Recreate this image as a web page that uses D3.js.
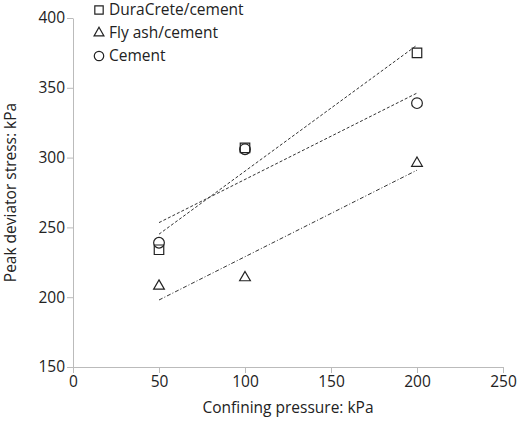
<!DOCTYPE html>
<html><head><meta charset="utf-8">
<script src="https://cdn.jsdelivr.net/npm/d3@7"></script>
<style>body{margin:0;background:#fff}text{font-family:"Open Sans",sans-serif;fill:#222}</style>
</head><body><div id="chart"></div>
<script>
const pressures = [50, 100, 200];
const duraCrete = [234, 307, 375];
const flyAsh = [208, 214, 296];
const cement = [239, 306, 339];
const xTicks = [0, 50, 100, 150, 200, 250];
const yTicks = [150, 200, 250, 300, 350, 400];

const w = 520, h = 422;
const svg = d3.select("#chart").append("svg").attr("width", w).attr("height", h);
const x = d3.scaleLinear().domain([0, 250]).range([73, 503]);
const y = d3.scaleLinear().domain([150, 400]).range([367, 18]);

// axes
const xa = svg.append("g").attr("transform", `translate(0,${y(150)})`)
  .call(d3.axisBottom(x).tickValues(xTicks).tickSize(6).tickSizeOuter(0));
const ya = svg.append("g").attr("transform", `translate(${x(0)},0)`)
  .call(d3.axisLeft(y).tickValues(yTicks).tickSize(6).tickSizeOuter(0));
[xa, ya].forEach(a => {
  a.selectAll("path,line").attr("stroke", "#bbb");
  a.selectAll("text").attr("font-size", 15.5).attr("fill", "#222");
});
ya.selectAll("text").attr("x", -8);

svg.append("text").attr("x", x(125)).attr("y", 413).attr("text-anchor", "middle")
  .attr("font-size", 15.5).text("Confining pressure: kPa");
svg.append("text").attr("transform", `translate(16,${y(275)}) rotate(-90)`)
  .attr("text-anchor", "middle").attr("font-size", 15.5).text("Peak deviator stress: kPa");

// least-squares trend lines
function fit(ys) {
  const mx = d3.mean(pressures), my = d3.mean(ys);
  const b = d3.sum(pressures, (p, i) => (p - mx) * (ys[i] - my)) / d3.sum(pressures, p => (p - mx) ** 2);
  return p => my + b * (p - mx);
}
const series = [
  {name: "DuraCrete/cement", vals: duraCrete, shape: d3.symbolSquare, dash: "3,2"},
  {name: "Fly ash/cement", vals: flyAsh, shape: d3.symbolTriangle, dash: "4,2,1,2"},
  {name: "Cement", vals: cement, shape: d3.symbolCircle, dash: "3,2"}
];
series.forEach(s => {
  const f = fit(s.vals);
  svg.append("line").attr("x1", x(50)).attr("x2", x(200))
    .attr("y1", y(f(50))).attr("y2", y(f(200)))
    .attr("stroke", "#333").attr("stroke-width", 1).attr("stroke-dasharray", s.dash);
});
const sym = s => d3.symbol().type(s.shape).size(s.shape === d3.symbolTriangle ? 50 : 90)();
series.forEach(s => {
  svg.append("g").selectAll("path").data(s.vals).enter().append("path")
    .attr("d", sym(s))
    .attr("transform", (d, i) => `translate(${x(pressures[i])},${y(d)})`)
    .attr("fill", "none").attr("stroke", "#222").attr("stroke-width", 1.2);
});

// legend
series.forEach((s, i) => {
  const yy = 10 + i * 23;
  svg.append("path").attr("d", d3.symbol().type(s.shape).size(s.shape === d3.symbolTriangle ? 42 : 70)())
    .attr("transform", `translate(99,${yy})`).attr("fill", "none").attr("stroke", "#222").attr("stroke-width", 1.2);
  svg.append("text").attr("x", 109).attr("y", yy + 5).attr("font-size", 15.5).text(s.name);
});
</script></body></html>
